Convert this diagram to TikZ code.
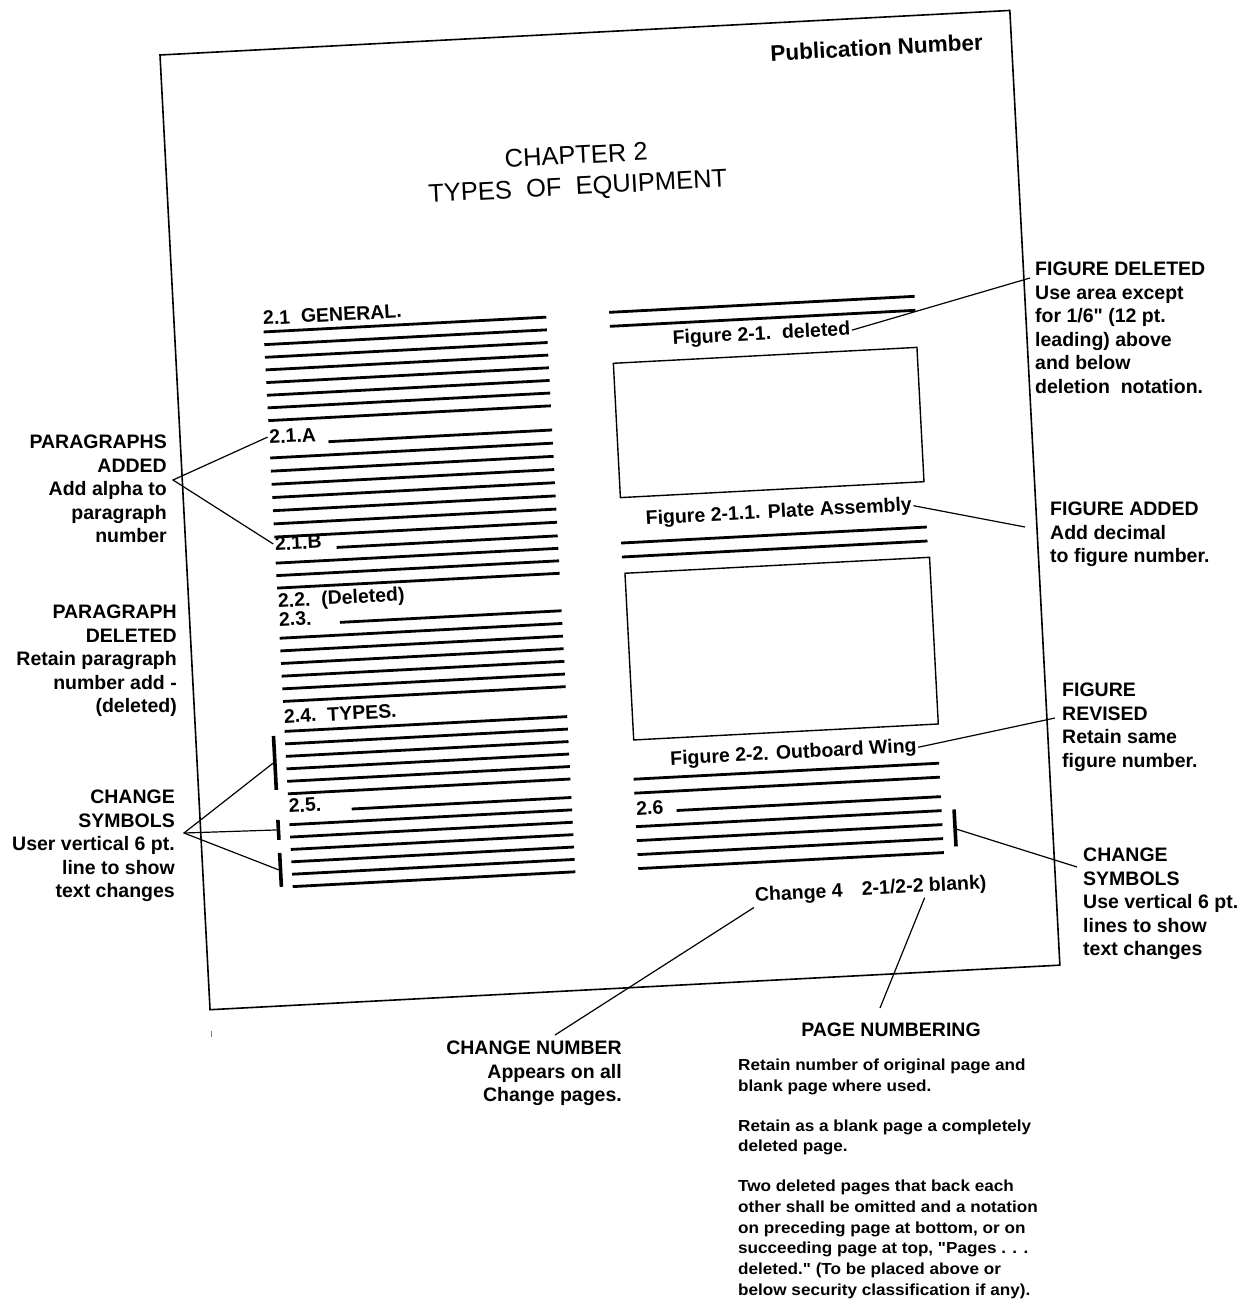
\documentclass[tikz,border=0pt]{standalone}
\usepackage{fontspec}
\setmainfont{Liberation Sans}[Ligatures=TeXOff]
\begin{document}
\begin{tikzpicture}[x=1pt,y=-1pt,
  pg/.style={line width=1.6pt},
  tl/.style={line width=2.8pt},
  bx/.style={line width=1.4pt},
  ld/.style={line width=1.2pt},
  cbar/.style={line width=3.6pt},
  lbl/.style={font=\fontsize{19.5}{23.5}\selectfont\bfseries, inner sep=1.5pt},
  ann/.style={font=\fontsize{19.5}{23.5}\selectfont\bfseries, inner sep=0pt},
  ttl/.style={font=\fontsize{25.5}{31}\selectfont, inner sep=0pt, align=center},
  note/.style={font=\fontsize{16}{20.7}\selectfont\bfseries, inner sep=0pt, align=left, xscale=1.07, anchor=north west}
]
\useasboundingbox (0,0) rectangle (1246,1300);
\begin{scope}[shift={(160,55)}, rotate=3, transform shape]
  % page outline
  \draw[pg] (0,0) rectangle (851,956);
  % header
  \node[lbl, font=\fontsize{22.5}{26}\selectfont\bfseries] (pub) at (716,30) {Publication Number};
  \node[ttl] (chap) at (410.3,139.5) {CHAPTER 2\\TYPES\ \ OF\ \ EQUIPMENT};
  % left column texts
  \node[lbl, anchor=base west] (t21)  at (87.5,275)   {2.1\ \ GENERAL.};
  \node[lbl, anchor=base west] (t21a) at (87.5,394)   {2.1.A};
  \node[lbl, anchor=base west] (t21b) at (87.5,501)   {2.1.B};
  \node[lbl, anchor=base west] (t22)  at (87.5,558)   {2.2.\ \ (Deleted)};
  \node[lbl, anchor=base west] (t23)  at (87.5,577)   {2.3.};
  \node[lbl, anchor=base west] (t24)  at (87.5,674)   {2.4.\ \ TYPES.};
  \node[lbl, anchor=base west] (t25)  at (87.5,763.5) {2.5.};
  % left column lines
  \foreach \v in {282,294.7,307.4,320,332.7,345.4,358,370.8,
                  408.2,421.4,434.6,447.8,461,474.2,487.4,
                  513.5,526,538.5,
                  588.7,601.4,614,626.7,639.4,652,
                  682,694.5,707,719.5,732,744.5,
                  775.4,787.8,800.2,812.6,825,837.4}
    \draw[tl] (89,\v) -- (372,\v);
  \draw[tl] (148,395) -- (372,395);
  \draw[tl] (150.6,501) -- (372,501);
  \draw[tl] (150,576) -- (372,576);
  \draw[tl] (152,763) -- (372,763);
  % left change bars
  \draw[cbar] (77.7,686) -- (77.7,740);
  \draw[cbar] (77.7,770) -- (77.7,790);
  \draw[cbar] (77.7,803) -- (77.7,837);
  \coordinate (b1) at (76,713);
  \coordinate (b2) at (76,780);
  \coordinate (b3) at (76,820);
  % right column
  \draw[tl] (435,280.5) -- (741,280.5);
  \draw[tl] (435,294.5) -- (741,294.5);
  \node[lbl, anchor=base] (fig21) at (586,316) {Figure 2-1.\ \ deleted};
  \draw[bx] (436.6,331.6) rectangle (740.6,466.1);
  \node[lbl, anchor=base] (fig211) at (594,494.5) {Figure 2-1.1. Plate Assembly};
  \draw[tl] (435,511.5) -- (741,511.5);
  \draw[tl] (435,525.5) -- (741,525.5);
  \draw[bx] (437.2,541.9) rectangle (742.2,708.8);
  \node[lbl, anchor=base] (fig22) at (596,736) {Figure 2-2. Outboard Wing};
  \draw[tl] (435,748) -- (741,748);
  \draw[tl] (435,762) -- (741,762);
  \node[lbl, anchor=base west] (t26) at (434.5,784) {2.6};
  \draw[tl] (476.4,781.5) -- (741,781.5);
  \foreach \v in {795.5,809.5,823.5,837.5}
    \draw[tl] (435,\v) -- (741,\v);
  \draw[cbar] (753.5,795) -- (753.5,832);
  \coordinate (bR) at (755.5,815);
  % footer
  \node[lbl, anchor=base west] (chg) at (548.5,876.6) {Change 4};
  \node[lbl, anchor=base west] (pgn) at (655.5,875.8) {2-1/2-2 blank)};
\end{scope}
% annotations
\node[ann, align=right, anchor=north east] (pa) at (167,435) {PARAGRAPHS\\ADDED\\Add alpha to\\paragraph\\number};
\node[ann, align=right, anchor=north east] (pd) at (177,605) {PARAGRAPH\\DELETED\\Retain paragraph\\number add -\\(deleted)};
\node[ann, align=right, anchor=north east] (csl) at (175,790) {CHANGE\\SYMBOLS\\User vertical 6 pt.\\line to show\\text changes};
\node[ann, align=left, anchor=north west] (fd) at (1035,262) {FIGURE DELETED\\Use area except\\for 1/6" (12 pt.\\leading) above\\and below\\deletion\ \ notation.};
\node[ann, align=left, anchor=north west] (fa) at (1050,502) {FIGURE ADDED\\Add decimal\\to figure number.};
\node[ann, align=left, anchor=north west] (fr) at (1062,683) {FIGURE\\REVISED\\Retain same\\figure number.};
\node[ann, align=left, anchor=north west] (csr) at (1083,848) {CHANGE\\SYMBOLS\\Use vertical 6 pt.\\lines to show\\text changes};
\node[ann, align=right, anchor=north east] (cn) at (622,1041) {CHANGE NUMBER\\Appears on all\\Change pages.};
\node[ann, anchor=north] (pn) at (891,1023) {PAGE NUMBERING};
\node[note] (pnt) at (738,1059) {Retain number of original page and\\blank page where used.\\[19pt]Retain as a blank page a completely\\deleted page.\\[19pt]Two deleted pages that back each\\other shall be omitted and a notation\\on preceding page at bottom, or on\\succeeding page at top, "Pages . . .\\deleted." (To be placed above or\\below security classification if any).};
% leaders
\coordinate (paApex) at (173,480);
\draw[ld] (t21a.west) -- (paApex) -- (t21b.west);
\coordinate (csApex) at (184,833);
\draw[ld] (b1) -- (csApex) -- (b3);
\draw[ld] (csApex) -- (b2);
\coordinate (fdEnd) at (1030,278);
\draw[ld] (fig21.east) -- (fdEnd);
\coordinate (faEnd) at (1025,527);
\draw[ld] (fig211.east) -- (faEnd);
\coordinate (frEnd) at (1055,718);
\draw[ld] (fig22.east) -- (frEnd);
\coordinate (csrEnd) at (1077,867);
\draw[ld] (bR) -- (csrEnd);
\coordinate (cnEnd) at (555,1035);
\draw[ld] (chg.south west) -- (cnEnd);
\coordinate (pnEnd) at (880,1008);
\draw[ld] (pgn.south) -- (pnEnd);
% small tick
\draw[line width=0.8pt, gray] (211.5,1031) -- (211.5,1037);
\end{tikzpicture}
\end{document}
